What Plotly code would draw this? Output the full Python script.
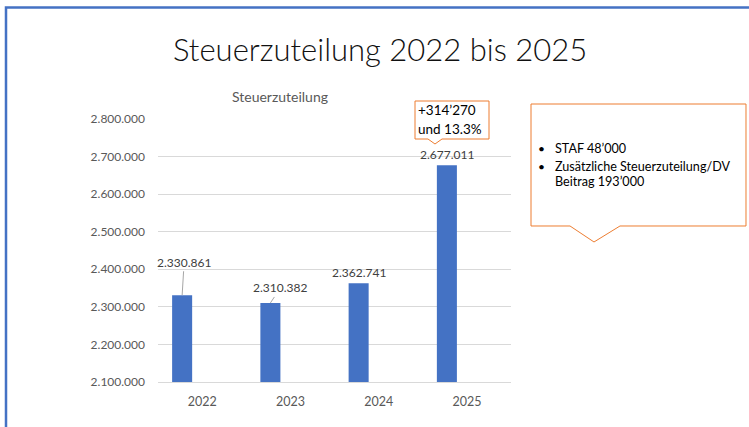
import plotly.graph_objects as go

# ---------------- data ----------------
years = ["2022", "2023", "2024", "2025"]
values = [2330861, 2310382, 2362741, 2677011]
y_ticks = [2100000, 2200000, 2300000, 2400000, 2500000, 2600000, 2700000, 2800000]
slide_title = "Steuerzuteilung 2022 bis 2025"
chart_title = "Steuerzuteilung"
callout_small = ["+314’270", "und 13.3%"]
callout_big = ["STAF 48’000", "Zusätzliche Steuerzuteilung/DV", "Beitrag 193’000"]

# ---------------- layout helpers ----------------
W, H = 749, 427
L, R, T, B = 158, 238, 119, 45
PW, PH = W - L - R, H - T - B


def px(x):
    return (x - L) / PW


def py(y):
    return (H - B - y) / PH


FONT = "Lato"
BLUE = "#4472C4"
ORANGE = "#ED7D31"
GRAY_TXT = "#595959"
LABEL_TXT = "#404040"

BAR_W = 0.227
BAR_OFF = -0.34
BAR_CENTER = BAR_OFF + BAR_W / 2


def de_num(v):
    return f"{v:,}".replace(",", ".")


fig = go.Figure()
fig.add_trace(go.Bar(
    x=years, y=values, width=BAR_W, offset=BAR_OFF,
    marker=dict(color=BLUE, line=dict(width=0)),
    hoverinfo="skip", showlegend=False,
))

annotations = []
# data labels
label_cfg = [
    dict(showarrow=True, ax=2, ay=-33),
    dict(showarrow=True, ax=10, ay=-15),
    dict(showarrow=False, yshift=11),
    dict(showarrow=False, yshift=11),
]
for i, (v, cfg) in enumerate(zip(values, label_cfg)):
    a = dict(
        x=i + BAR_CENTER, y=v, xref="x", yref="y", text=de_num(v),
        font=dict(family=FONT, size=12, color=LABEL_TXT),
        xanchor="center", yanchor="middle",
        arrowhead=0, arrowwidth=1, arrowcolor="#A6A6A6", standoff=0,
    )
    a.update(cfg)
    annotations.append(a)

# slide title
annotations.append(dict(
    x=px(380), y=py(49), xref="paper", yref="paper", text=slide_title,
    showarrow=False, xanchor="center", yanchor="middle",
    font=dict(family=FONT, size=31, color="#111111", weight=300),
))
# chart title
annotations.append(dict(
    x=px(280), y=py(97), xref="paper", yref="paper", text=chart_title,
    showarrow=False, xanchor="center", yanchor="middle",
    font=dict(family=FONT, size=14, color=GRAY_TXT),
))
# small callout text
for txt, yy in zip(callout_small, [110, 129]):
    annotations.append(dict(
        x=px(416), y=py(yy), xref="paper", yref="paper", text=txt,
        showarrow=False, xanchor="left", yanchor="middle",
        font=dict(family=FONT, size=13.5, color="#000000"),
    ))
# big callout text
for txt, yy, bullet in zip(callout_big, [148, 166, 181], [True, True, False]):
    annotations.append(dict(
        x=px(553), y=py(yy), xref="paper", yref="paper", text=txt,
        showarrow=False, xanchor="left", yanchor="middle",
        font=dict(family=FONT, size=12.6, color="#000000"),
    ))
    if bullet:
        annotations.append(dict(
            x=px(541), y=py(yy), xref="paper", yref="paper", text="•",
            showarrow=False, xanchor="center", yanchor="middle",
            font=dict(family=FONT, size=12, color="#000000"),
        ))


def path(points):
    s = "M " + " L ".join(f"{px(x):.5f},{py(y):.5f}" for x, y in points) + " Z"
    return s


shapes = [
    # small callout
    dict(type="path", xref="paper", yref="paper",
         path=path([(415, 101), (489, 101), (489, 139), (442, 139), (435, 144), (428, 139), (415, 139)]),
         fillcolor="white", line=dict(color=ORANGE, width=1), layer="above"),
    # big callout
    dict(type="path", xref="paper", yref="paper",
         path=path([(531, 104), (746, 104), (746, 226), (620, 226), (594, 242), (570, 226), (531, 226)]),
         fillcolor="white", line=dict(color=ORANGE, width=1), layer="above"),
    # slide border (left + top)
    dict(type="path", xref="paper", yref="paper",
         path="M {:.5f},{:.5f} L {:.5f},{:.5f} L {:.5f},{:.5f}".format(
             px(6), py(430), px(6), py(7.5), px(752), py(7.5)),
         line=dict(color=BLUE, width=2.5)),
]

fig.update_layout(
    width=W, height=H, autosize=False,
    margin=dict(l=L, r=R, t=T, b=B, pad=0),
    paper_bgcolor="white", plot_bgcolor="white",
    separators=",.",
    showlegend=False,
    annotations=annotations,
    shapes=shapes,
    xaxis=dict(
        type="category", categoryorder="array", categoryarray=years,
        range=[-0.5, 3.5], showgrid=False, zeroline=False,
        showline=True, linecolor="#D9D9D9", linewidth=1,
        ticks="", ticklabelstandoff=8,
        tickfont=dict(family=FONT, size=12.5, color=GRAY_TXT),
        fixedrange=True,
    ),
    yaxis=dict(
        range=[y_ticks[0], y_ticks[-1]], tickvals=y_ticks,
        tickformat=",d", showgrid=True, gridcolor="#D9D9D9", gridwidth=1,
        zeroline=False, showline=False, ticks="", ticklabelstandoff=12,
        tickfont=dict(family=FONT, size=12, color=GRAY_TXT),
        fixedrange=True,
    ),
)

fig.write_html(
    "out.html",
    config={"displayModeBar": False, "staticPlot": True},
    post_script="document.body.style.margin='0';document.body.style.overflow='hidden';",
)
